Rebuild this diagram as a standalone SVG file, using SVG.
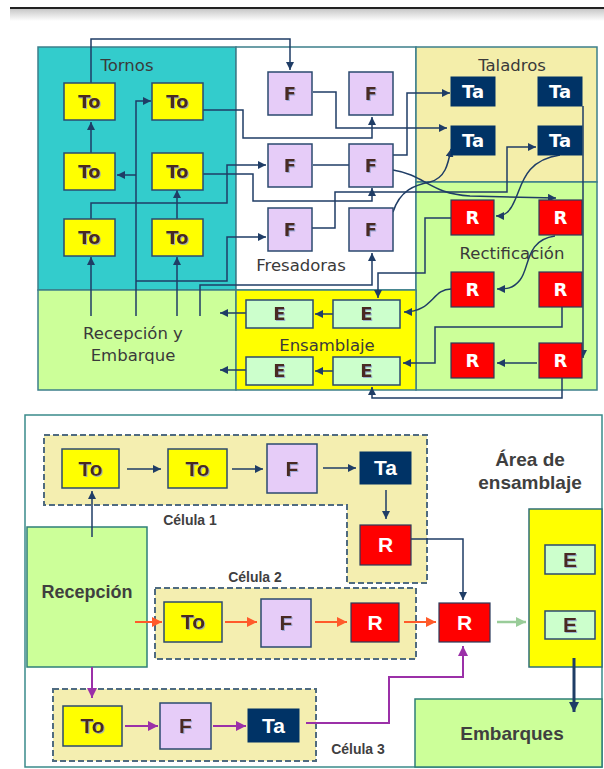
<svg xmlns="http://www.w3.org/2000/svg" width="604" height="769" viewBox="0 0 604 769">
<defs>
<linearGradient id="sh" x1="0" y1="0" x2="0" y2="1"><stop offset="0" stop-color="#c8c8c8"/><stop offset="1" stop-color="#ffffff"/></linearGradient>
<filter id="ts" x="-20%" y="-20%" width="140%" height="140%"><feDropShadow dx="1" dy="1" stdDeviation="0.4" flood-color="#8fa0d0" flood-opacity="0.8"/></filter>
<marker id="an" markerUnits="userSpaceOnUse" markerWidth="9" markerHeight="8" refX="8" refY="4" orient="auto"><path d="M0,0 L8,4 L0,8 z" fill="#1F3D66"/></marker>
<marker id="ao" markerUnits="userSpaceOnUse" markerWidth="11" markerHeight="10" refX="10" refY="5" orient="auto"><path d="M0,0 L10,5 L0,10 z" fill="#FF5A2A"/></marker>
<marker id="ap" markerUnits="userSpaceOnUse" markerWidth="11" markerHeight="10" refX="10" refY="5" orient="auto"><path d="M0,0 L10,5 L0,10 z" fill="#9B30A8"/></marker>
<marker id="ag" markerUnits="userSpaceOnUse" markerWidth="11" markerHeight="10" refX="10" refY="5" orient="auto"><path d="M0,0 L10,5 L0,10 z" fill="#99CC99"/></marker>
<marker id="ab" markerUnits="userSpaceOnUse" markerWidth="11" markerHeight="10" refX="10" refY="5" orient="auto"><path d="M0,0 L10,5 L0,10 z" fill="#1F3D66"/></marker>
</defs>
<style>
.reg{stroke:#3D7F8A;stroke-width:1.5}
.to{fill:#FFFF00;stroke:#2B4A6F;stroke-width:1.5}
.f{fill:#E6CCF8;stroke:#2B4A6F;stroke-width:1.5}
.ta{fill:#003366;stroke:#003366;stroke-width:1}
.r{fill:#FF0000;stroke:#2B3A5A;stroke-width:1.2}
.e{fill:#CCFFCC;stroke:#2B4A6F;stroke-width:1.5}
.tl{font-family:"DejaVu Sans",Verdana,sans-serif;font-size:16.5px;fill:#3A3A3A;text-anchor:middle}
.bt{font-family:"DejaVu Sans",Verdana,sans-serif;font-size:18px;font-weight:bold;text-anchor:middle}
.dk{fill:#4A2A20;filter:url(#ts)}
.wh{fill:#FFFFFF}
.bb{font-family:"Liberation Sans",Arial,sans-serif;font-weight:bold;text-anchor:middle;font-size:21px}
.lb{font-family:"Liberation Sans",Arial,sans-serif;font-weight:bold;fill:#3F3F3F;text-anchor:middle}
.cn{fill:none;stroke:#1F3D66;stroke-width:1.5}
.cell{fill:#F4EEB0;stroke:#4F6B80;stroke-width:2;stroke-dasharray:6,3}
.bx{fill:#CCFF99;stroke:#2E7F78;stroke-width:1.5}
</style>
<rect width="604" height="769" fill="#FFFFFF"/>
<rect x="10" y="9" width="594" height="12" fill="url(#sh)"/>
<line x1="10" y1="8" x2="604" y2="8" stroke="#222222" stroke-width="2"/>

<g id="regions-top">
<rect x="38" y="47" width="198" height="243" fill="#33CCCC" class="reg"/>
<rect x="236" y="47" width="180" height="243" fill="#FFFFFF" class="reg"/>
<rect x="416" y="47" width="181" height="135" fill="#F4EEAA" class="reg"/>
<rect x="416" y="182" width="181" height="208" fill="#CCFF99" class="reg"/>
<rect x="38" y="290" width="198" height="100" fill="#CCFF99" class="reg"/>
<rect x="236" y="290" width="180" height="100" fill="#FFFF00" class="reg"/>
<text class="tl" x="127" y="71">Tornos</text>
<text class="tl" x="301" y="271">Fresadoras</text>
<text class="tl" x="512" y="71">Taladros</text>
<text class="tl" x="512" y="259">Rectificación</text>
<text class="tl" x="327" y="351">Ensamblaje</text>
<text class="tl" x="133" y="339">Recepción y</text>
<text class="tl" x="133" y="361">Embarque</text>
</g>

<g id="connectors-top">
<path class="cn" d="M91,83 V39 H290 V70" marker-end="url(#an)"/>
<path class="cn" d="M136,316 V101 H151" marker-end="url(#an)"/>
<path class="cn" d="M136,175 H117" marker-end="url(#an)"/>
<path class="cn" d="M91,153 V122" marker-end="url(#an)"/>
<path class="cn" d="M91,219 V203 H227 V165 H266" marker-end="url(#an)"/>
<path class="cn" d="M203,110 H243 V138 H372 V117" marker-end="url(#an)"/>
<path class="cn" d="M203,174 H253 V201 H372 V188" marker-end="url(#an)"/>
<path class="cn" d="M91,316 V257" marker-end="url(#an)"/>
<path class="cn" d="M177,316 V257" marker-end="url(#an)"/>
<path class="cn" d="M177,219 V190" marker-end="url(#an)"/>
<path class="cn" d="M136,281 H227 V237 H266" marker-end="url(#an)"/>
<path class="cn" d="M200,316 V285 H372 V253" marker-end="url(#an)"/>
<path class="cn" d="M313,92 H336 V128 H447" marker-end="url(#an)"/>
<path class="cn" d="M313,165 H349"/>
<path class="cn" d="M393,155 H407 V93 H450" marker-end="url(#an)"/>
<path class="cn" d="M393,170 C425,175 430,194 470,196 L556,198" marker-end="url(#an)"/>
<path class="cn" d="M393,212 C400,190 415,185 430,182 C445,178 448,165 451,149" marker-end="url(#an)"/>
<path class="cn" d="M308,228 H335 V192 H507 V147 H536" marker-end="url(#an)"/>
<path class="cn" d="M560,155 C525,160 522,185 515,200 C510,212 505,216 496,216" marker-end="url(#an)"/>
<path class="cn" d="M583,106 V358" marker-end="url(#an)"/>
<path class="cn" d="M555,236 C525,240 530,268 520,280 C513,289 506,289 497,289" marker-end="url(#an)"/>
<path class="cn" d="M451,289 C432,289 433,312 404,312" marker-end="url(#an)"/>
<path class="cn" d="M451,218 H425 V273 H378 V298" marker-end="url(#an)"/>
<path class="cn" d="M562,307 V327 H435 V363 H403" marker-end="url(#an)"/>
<path class="cn" d="M537,363 H497" marker-end="url(#an)"/>
<path class="cn" d="M562,378 V398 H372 V387" marker-end="url(#an)"/>
<path class="cn" d="M333,314 H315" marker-end="url(#an)"/>
<path class="cn" d="M333,371 H315" marker-end="url(#an)"/>
<path class="cn" d="M246,313 H220" marker-end="url(#an)"/>
<path class="cn" d="M246,370 H220" marker-end="url(#an)"/>
</g>

<g id="to-1"><rect class="to" x="64" y="83" width="51" height="37"/><text class="bt dk" x="89.5" y="108">To</text></g>
<g id="to-2"><rect class="to" x="152" y="83" width="51" height="37"/><text class="bt dk" x="177.5" y="108">To</text></g>
<g id="to-3"><rect class="to" x="64" y="153" width="51" height="37"/><text class="bt dk" x="89.5" y="178">To</text></g>
<g id="to-4"><rect class="to" x="152" y="153" width="51" height="37"/><text class="bt dk" x="177.5" y="178">To</text></g>
<g id="to-5"><rect class="to" x="64" y="219" width="51" height="37"/><text class="bt dk" x="89.5" y="244">To</text></g>
<g id="to-6"><rect class="to" x="152" y="219" width="51" height="37"/><text class="bt dk" x="177.5" y="244">To</text></g>

<g id="f-1"><rect class="f" x="268" y="72" width="44" height="43"/><text class="bt dk" x="290" y="100">F</text></g>
<g id="f-2"><rect class="f" x="349" y="72" width="44" height="43"/><text class="bt dk" x="371" y="100">F</text></g>
<g id="f-3"><rect class="f" x="268" y="144" width="44" height="43"/><text class="bt dk" x="290" y="172">F</text></g>
<g id="f-4"><rect class="f" x="349" y="144" width="44" height="43"/><text class="bt dk" x="371" y="172">F</text></g>
<g id="f-5"><rect class="f" x="268" y="208" width="44" height="43"/><text class="bt dk" x="290" y="236">F</text></g>
<g id="f-6"><rect class="f" x="349" y="208" width="44" height="43"/><text class="bt dk" x="371" y="236">F</text></g>

<g id="ta-1"><rect class="ta" x="451" y="77" width="44" height="29"/><text class="bt wh" x="473" y="98">Ta</text></g>
<g id="ta-2"><rect class="ta" x="538" y="77" width="44" height="29"/><text class="bt wh" x="560" y="98">Ta</text></g>
<g id="ta-3"><rect class="ta" x="451" y="126" width="44" height="29"/><text class="bt wh" x="473" y="147">Ta</text></g>
<g id="ta-4"><rect class="ta" x="538" y="126" width="44" height="29"/><text class="bt wh" x="560" y="147">Ta</text></g>

<g id="r-1"><rect class="r" x="451" y="200" width="43" height="35"/><text class="bt wh" x="472.5" y="224">R</text></g>
<g id="r-2"><rect class="r" x="539" y="200" width="43" height="35"/><text class="bt wh" x="560.5" y="224">R</text></g>
<g id="r-3"><rect class="r" x="451" y="272" width="43" height="35"/><text class="bt wh" x="472.5" y="296">R</text></g>
<g id="r-4"><rect class="r" x="539" y="272" width="43" height="35"/><text class="bt wh" x="560.5" y="296">R</text></g>
<g id="r-5"><rect class="r" x="451" y="343" width="43" height="35"/><text class="bt wh" x="472.5" y="367">R</text></g>
<g id="r-6"><rect class="r" x="539" y="343" width="43" height="35"/><text class="bt wh" x="560.5" y="367">R</text></g>

<g id="e-1"><rect class="e" x="246" y="300" width="67" height="28"/><text class="bt dk" x="279.5" y="320">E</text></g>
<g id="e-2"><rect class="e" x="333" y="300" width="67" height="28"/><text class="bt dk" x="366.5" y="320">E</text></g>
<g id="e-3"><rect class="e" x="246" y="357" width="67" height="28"/><text class="bt dk" x="279.5" y="377">E</text></g>
<g id="e-4"><rect class="e" x="333" y="357" width="67" height="28"/><text class="bt dk" x="366.5" y="377">E</text></g>

<g id="frame-bottom"><rect x="25" y="415" width="577" height="352" fill="#FFFFFF" stroke="#3A8A8A" stroke-width="1.5"/></g>
<g id="celula-1"><polygon class="cell" points="44,435 427,435 427,583 347,583 347,505 44,505"/><text class="lb" x="190" y="525" font-size="14">Célula 1</text></g>
<g id="celula-2"><rect class="cell" x="155" y="588" width="261" height="71"/><text class="lb" x="255" y="582" font-size="14">Célula 2</text></g>
<g id="celula-3"><rect class="cell" x="53" y="689" width="263" height="72"/><text class="lb" x="358" y="754" font-size="14">Célula 3</text></g>
<g id="recepcion"><rect class="bx" x="27" y="527" width="120" height="140"/><text class="lb" x="87" y="598" font-size="18">Recepción</text></g>
<g id="area-ensamblaje"><rect x="529" y="509" width="73" height="158" fill="#FFFF00" stroke="#2E6F78" stroke-width="1.5"/><text class="lb" x="530" y="466" font-size="19">Área de</text><text class="lb" x="530" y="489" font-size="19">ensamblaje</text></g>
<g id="embarques"><rect class="bx" x="415" y="699" width="187" height="68"/><text class="lb" x="512" y="740" font-size="19">Embarques</text></g>

<g id="connectors-bottom">
<path class="cn" d="M92,537 V491" marker-end="url(#an)"/>
<path class="cn" d="M127,469 H161" marker-end="url(#an)"/>
<path class="cn" d="M232,469 H263" marker-end="url(#an)"/>
<path class="cn" d="M323,468 H356" marker-end="url(#an)"/>
<path class="cn" d="M386,490 V519" marker-end="url(#an)"/>
<path class="cn" d="M411,539 H463 V600" marker-end="url(#an)"/>
<path d="M135,622 H162" fill="none" stroke="#FF5A2A" stroke-width="2" marker-end="url(#ao)"/>
<path d="M225,622 H257" fill="none" stroke="#FF5A2A" stroke-width="2" marker-end="url(#ao)"/>
<path d="M315,622 H347" fill="none" stroke="#FF5A2A" stroke-width="2" marker-end="url(#ao)"/>
<path d="M404,622 H436" fill="none" stroke="#FF5A2A" stroke-width="2" marker-end="url(#ao)"/>
<path d="M497,622 H526" fill="none" stroke="#99CC99" stroke-width="2.5" marker-end="url(#ag)"/>
<path d="M92,667 V698" fill="none" stroke="#9B30A8" stroke-width="2" marker-end="url(#ap)"/>
<path d="M125,726 H158" fill="none" stroke="#9B30A8" stroke-width="2" marker-end="url(#ap)"/>
<path d="M213,726 H246" fill="none" stroke="#9B30A8" stroke-width="2" marker-end="url(#ap)"/>
<path d="M306,723 H389 V677 H463 V646" fill="none" stroke="#9B30A8" stroke-width="2" marker-end="url(#ap)"/>
<path d="M574,658 V712" fill="none" stroke="#1F3D66" stroke-width="3" marker-end="url(#ab)"/>
</g>

<g id="c1-to-1"><rect class="to" x="62" y="449" width="57" height="39"/><text class="bb dk" x="90.5" y="476">To</text></g>
<g id="c1-to-2"><rect class="to" x="168" y="449" width="59" height="39"/><text class="bb dk" x="197.5" y="476">To</text></g>
<g id="c1-f"><rect class="f" x="267" y="444" width="50" height="49" fill="#DDC0F5"/><text class="bb dk" x="292" y="476">F</text></g>
<g id="c1-ta"><rect class="ta" x="360" y="452" width="51" height="32"/><text class="bb wh" x="385.5" y="475">Ta</text></g>
<g id="c1-r"><rect class="r" x="360" y="525" width="51" height="40"/><text class="bb wh" x="385.5" y="552">R</text></g>

<g id="c2-to"><rect class="to" x="164" y="602" width="58" height="40"/><text class="bb dk" x="193" y="629">To</text></g>
<g id="c2-f"><rect class="f" x="261" y="599" width="50" height="48"/><text class="bb dk" x="286" y="630">F</text></g>
<g id="c2-r"><rect class="r" x="351" y="603" width="48" height="39"/><text class="bb wh" x="375" y="630">R</text></g>
<g id="r-central"><rect class="r" x="439" y="603" width="51" height="39"/><text class="bb wh" x="464.5" y="630">R</text></g>

<g id="ea-e-1"><rect class="e" x="545" y="545" width="50" height="29"/><text class="bb dk" x="570" y="567">E</text></g>
<g id="ea-e-2"><rect class="e" x="545" y="611" width="50" height="28"/><text class="bb dk" x="570" y="632">E</text></g>

<g id="c3-to"><rect class="to" x="63" y="706" width="59" height="40"/><text class="bb dk" x="92.5" y="733">To</text></g>
<g id="c3-f"><rect class="f" x="160" y="703" width="51" height="46"/><text class="bb dk" x="185.5" y="733">F</text></g>
<g id="c3-ta"><rect class="ta" x="248" y="709" width="51" height="33"/><text class="bb wh" x="273.5" y="733">Ta</text></g>
</svg>
